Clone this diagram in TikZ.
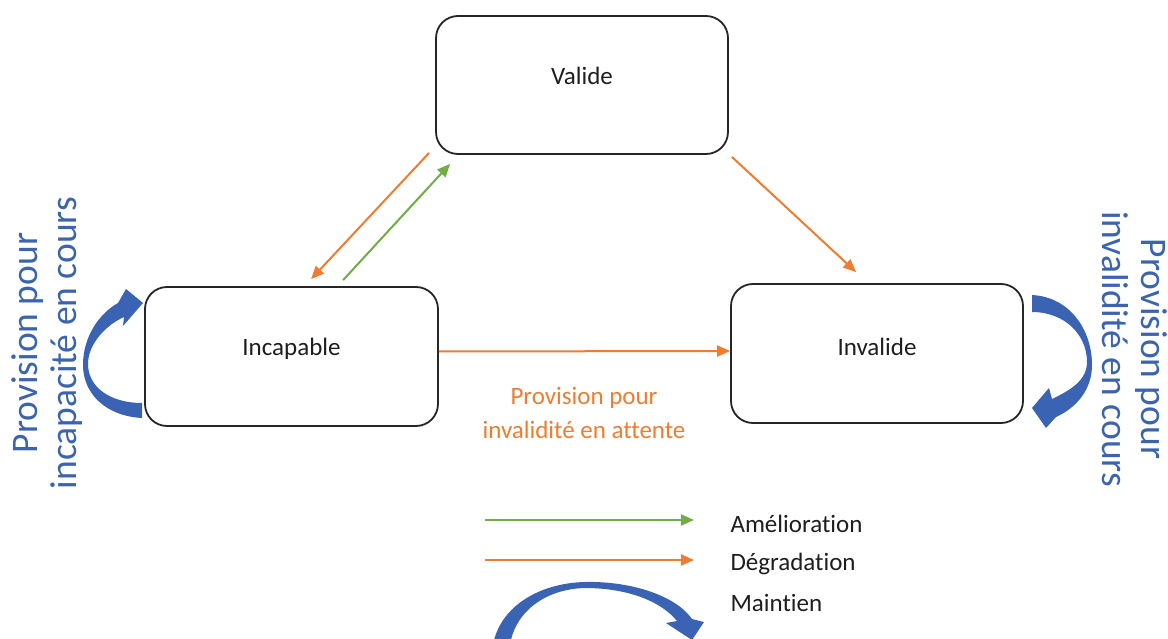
\documentclass[tikz,border=0pt]{standalone}
\usepackage{fontspec}
\setmainfont{Carlito}[RawFeature={-liga;-dlig}]
\usetikzlibrary{arrows.meta,calc}
\definecolor{dorange}{RGB}{237,125,49}
\definecolor{dgreen}{RGB}{112,173,71}
\definecolor{dblue}{RGB}{58,99,180}
\definecolor{tblue}{RGB}{60,100,172}
\definecolor{dtext}{RGB}{30,30,30}
\tikzset{
  statebox/.style={draw=black!85, line width=1.8pt, rounded corners=22pt, minimum width=292pt, minimum height=138pt, inner sep=0pt},
  boxtext/.style={font=\fontsize{25}{30}\selectfont, text=dtext},
  conn/.style={line width=2pt, -{Triangle[length=13pt,width=11pt]}},
  degr/.style={conn, draw=dorange, -{Triangle[length=13pt,width=11pt,fill=dorange]}},
  amel/.style={conn, draw=dgreen, -{Triangle[length=13pt,width=11pt,fill=dgreen]}},
  sidetext/.style={font=\fontsize{37.5}{39}\selectfont, text=tblue, align=center},
  legtext/.style={font=\fontsize{25}{30}\selectfont, text=dtext, anchor=west},
  curvarrow/.style={fill=dblue, draw=none}
}
\begin{document}
\begin{tikzpicture}[x=1pt,y=-1pt]
\useasboundingbox (0,0) rectangle (1168,639);
\fill[white] (0,0) rectangle (1168,639);

% state boxes
\node[statebox, label={[boxtext, yshift=9pt]center:Valide}] (valide) at (582,85) {};
\node[statebox, minimum width=293pt, minimum height=139pt, label={[boxtext, yshift=8pt]center:Incapable}] (incapable) at (291.5,356.5) {};
\node[statebox, minimum height=139pt, label={[boxtext, yshift=7pt]center:Invalide}] (invalide) at (877,353.5) {};

% transitions
\draw[degr] ($(valide.south west)+(-6,-2)$) -- ($(incapable.north west)+(167,-7)$);
\draw[amel] ($(incapable.north west)+(199,-6)$) -- ($(valide.south west)+(15,9)$);
\draw[degr] ($(valide.south east)+(3,2)$) -- ($(invalide.north west)+(126,-11)$);
\draw[degr] ($(incapable.east)+(0,-5)$) -- ($(invalide.west)+(0,-2.5)$);

\node[font=\fontsize{25}{34}\selectfont, text=dorange, align=center] (attente) at (584,413) {Provision pour\\invalidité en attente};

% side texts
\node[sidetext, rotate=90] (lefttext) at (47,343) {Provision pour\\incapacité en cours};
\node[sidetext, rotate=-90] (righttext) at (1134.5,349) {Provision pour\\invalidité en cours};

% left curved arrow (maintien incapable)
\fill[curvarrow] (142,418) .. controls (105,416) and (83,393) .. (83,365)
  .. controls (83,336) and (100,313) .. (118,303)
  -- (126,289) -- (143,303) -- (123,326) -- (124,317)
  .. controls (106,325) and (88,344) .. (88,364)
  .. controls (88,387) and (110,403) .. (142,403) -- cycle;

% right curved arrow (maintien invalide)
\fill[curvarrow] (1032,295) .. controls (1070,297) and (1092,330) .. (1092,365)
  .. controls (1092,390) and (1076,408) .. (1056,417)
  -- (1046,428) -- (1032,408) -- (1049,388) -- (1052,399)
  .. controls (1071,390) and (1087,380) .. (1087,362)
  .. controls (1087,335) and (1065,312) .. (1032,312) -- cycle;

% legend
\coordinate (g1) at (485,520); \coordinate (g2) at (694,520);
\coordinate (o1) at (485,560); \coordinate (o2) at (694,560);
\draw[amel] (g1) -- (g2);
\draw[degr] (o1) -- (o2);
\node[legtext] (lamel) at (727,524) {Amélioration};
\node[legtext] (ldegr) at (727,564) {Dégradation};
\node[legtext] (lmaint) at (727,603) {Maintien};

\fill[curvarrow] (493,645) .. controls (500,606) and (540,583) .. (585,582)
  .. controls (632,581) and (676,596) .. (692,619)
  -- (704,622) -- (692,640) -- (666,623) -- (677,621)
  .. controls (660,600) and (625,588) .. (585,588)
  .. controls (545,589) and (515,612) .. (510,645) -- cycle;
\end{tikzpicture}
\end{document}
